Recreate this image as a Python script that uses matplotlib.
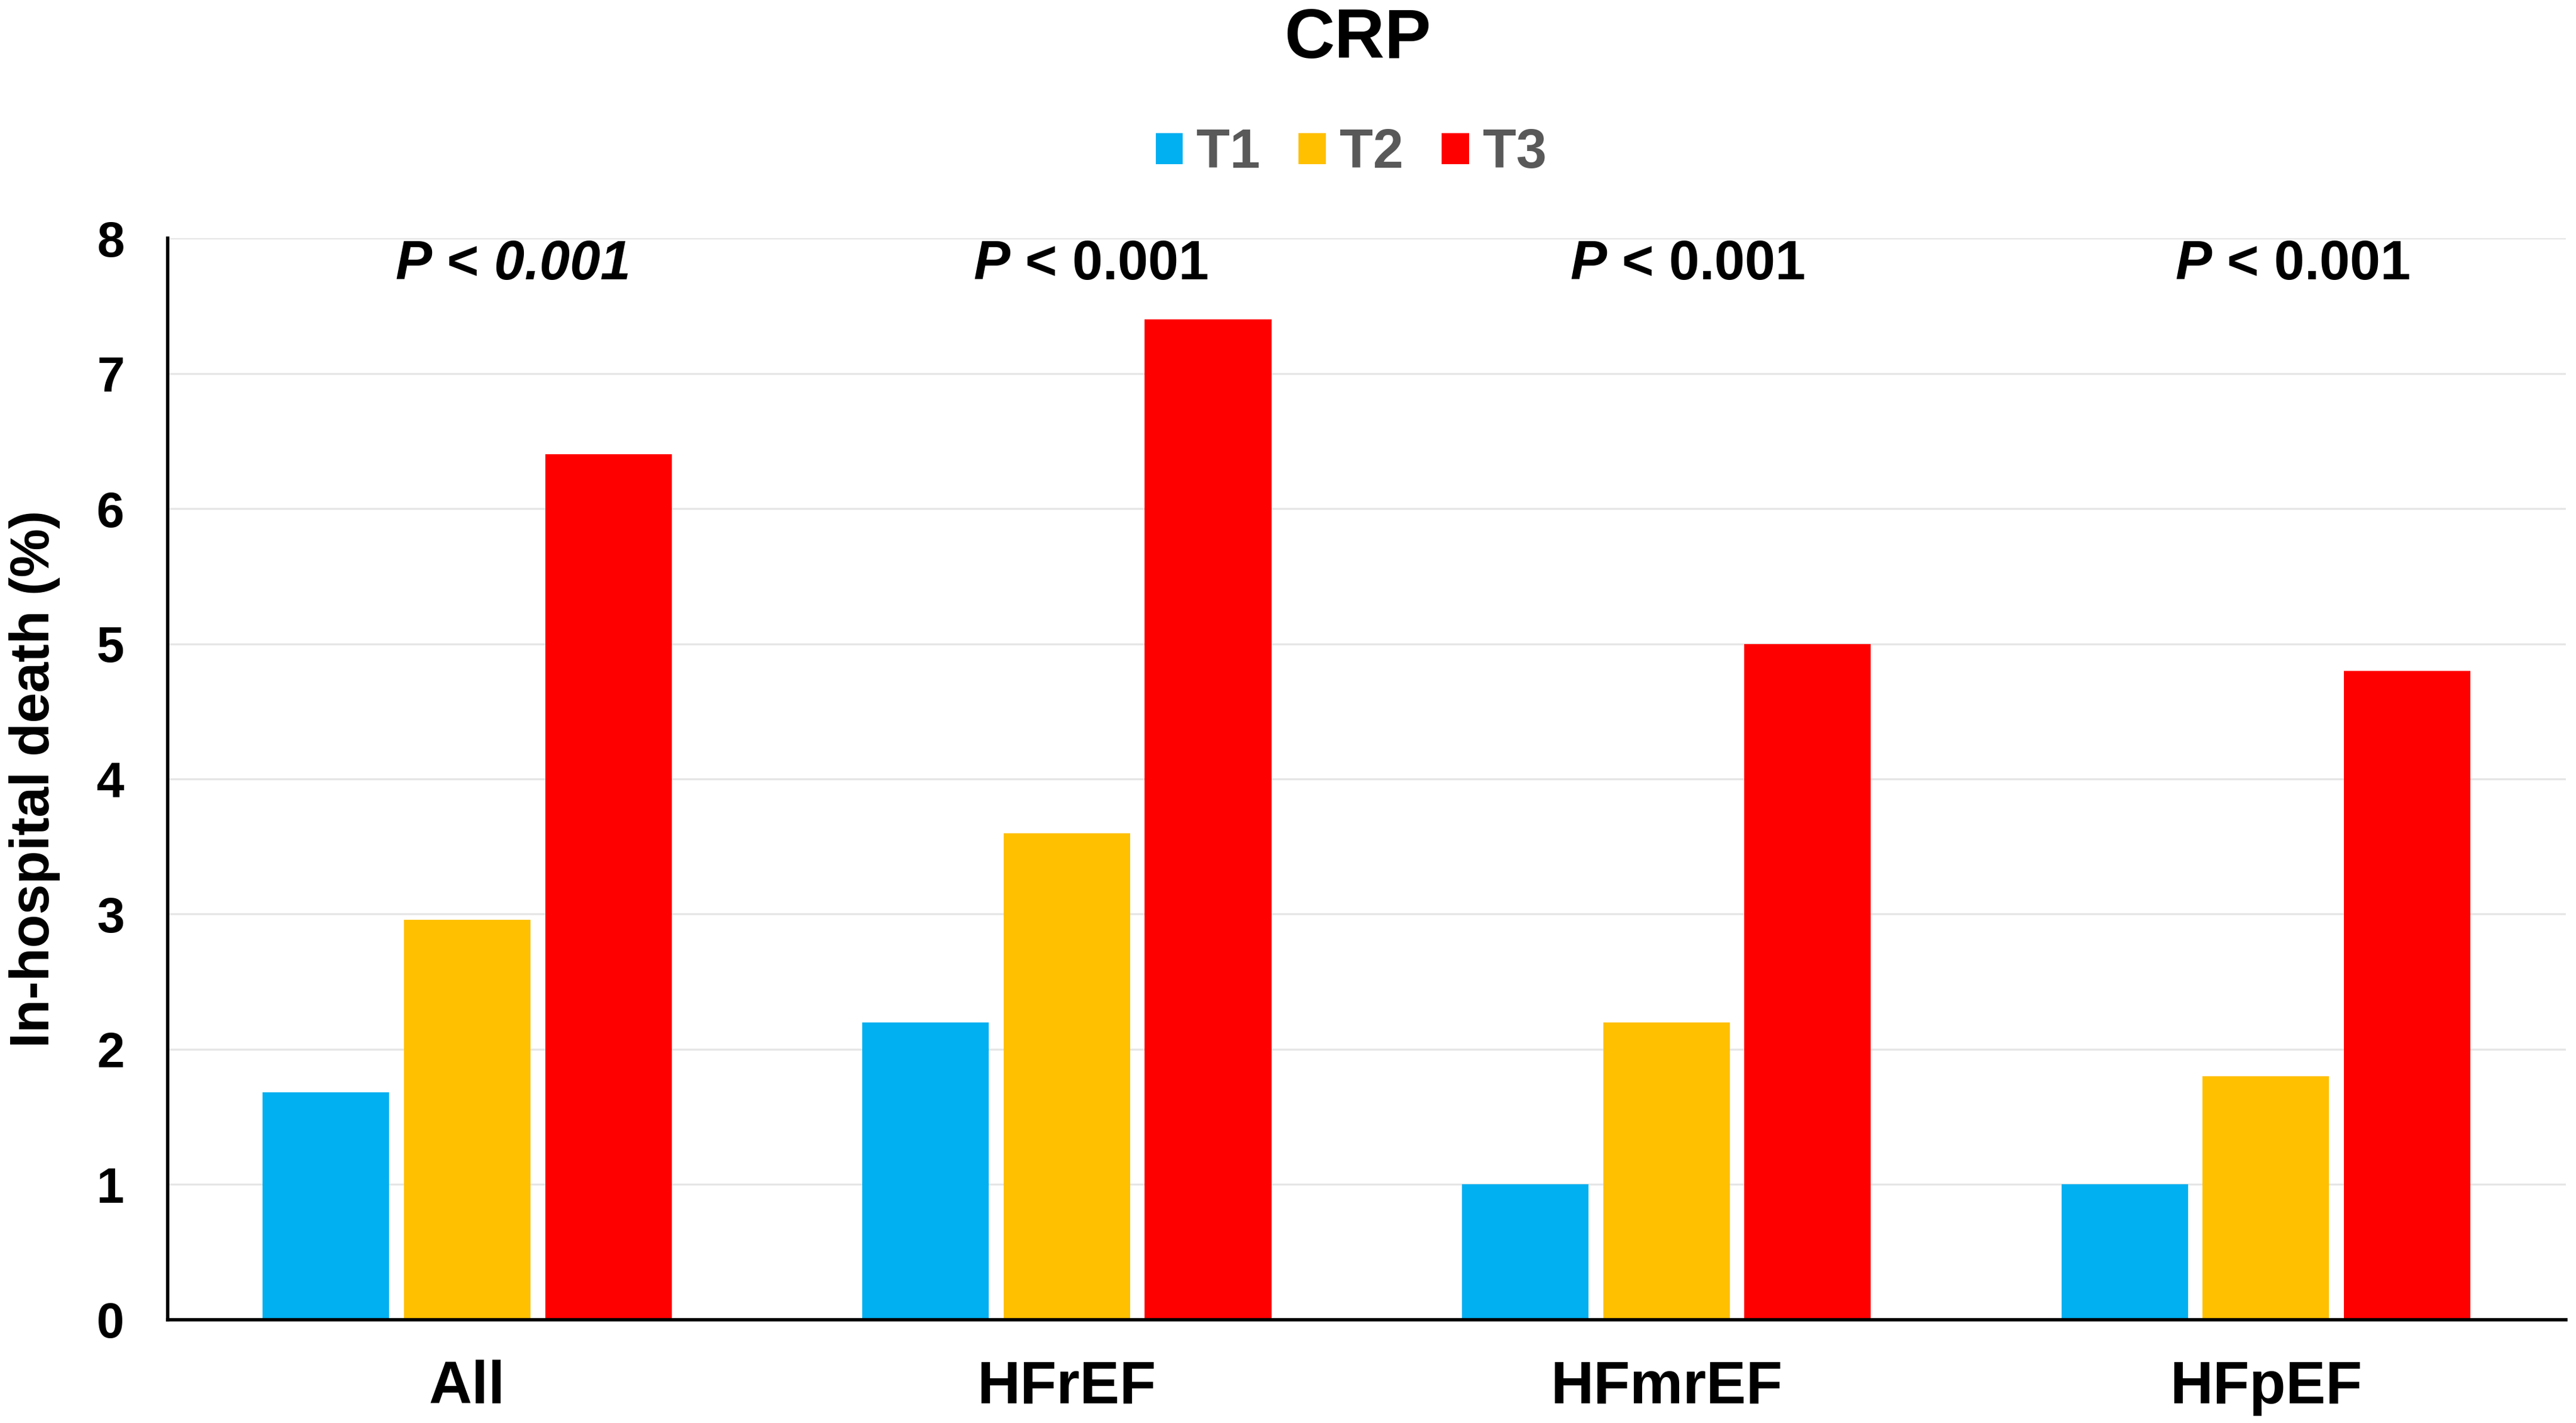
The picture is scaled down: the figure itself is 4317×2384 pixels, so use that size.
import matplotlib
matplotlib.use("Agg")
import matplotlib.pyplot as plt
from matplotlib.patches import Patch
import numpy as np

categories = ["All", "HFrEF", "HFmrEF", "HFpEF"]
series_names = ["T1", "T2", "T3"]
t1 = [1.68, 2.2, 1.0, 1.0]
t2 = [2.96, 3.6, 2.2, 1.8]
t3 = [6.4, 7.4, 5.0, 4.8]
colors = ["#00B0F0", "#FFC000", "#FF0000"]
yticks = [0, 1, 2, 3, 4, 5, 6, 7, 8]
p_labels = [r"$\mathbfit{P}$ < $\mathbfit{0.001}$", r"$\mathbfit{P}$ < 0.001",
            r"$\mathbfit{P}$ < 0.001", r"$\mathbfit{P}$ < 0.001"]

plt.rcParams['font.family'] = ['Liberation Sans', 'DejaVu Sans']
plt.rcParams['mathtext.fontset'] = 'custom'
plt.rcParams['mathtext.rm'] = 'Liberation Sans:bold'
plt.rcParams['mathtext.bf'] = 'Liberation Sans:bold'
plt.rcParams['mathtext.it'] = 'Liberation Sans:italic:bold'
plt.rcParams['mathtext.bfit'] = 'Liberation Sans:italic:bold'

fig = plt.figure(figsize=(4317/200, 2384/200), dpi=200)
ax = fig.add_axes([0.065, 0.0726, 0.931, 0.76])

x = np.arange(len(categories))
offset = 0.2356
width = 0.211
for i, (vals, c, name) in enumerate(zip([t1, t2, t3], colors, series_names)):
    ax.bar(x + (i - 1) * offset, vals, width=width, color=c, label=name, zorder=3, linewidth=0)

ax.set_xlim(-0.5, 3.5)
ax.set_ylim(0, 8)
ax.set_yticks(yticks)
ax.set_yticklabels([str(v) for v in yticks], fontsize=30, fontweight='bold')
ax.set_xticks(x)
ax.set_xticklabels(categories, fontsize=36, fontweight='bold')
ax.tick_params(axis='y', length=0, pad=26)
ax.tick_params(axis='x', length=0, pad=24)
ax.grid(axis='y', color='#E6E6E6', linewidth=1.2, zorder=0)
for s in ['top', 'right']:
    ax.spines[s].set_visible(False)
ax.spines['left'].set_linewidth(2.0)
ax.spines['bottom'].set_linewidth(2.0)
ax.spines['left'].set_zorder(4)
ax.spines['bottom'].set_zorder(4)

ax.set_ylabel("In-hospital death (%)", fontsize=33, fontweight='bold', labelpad=22)

p_offsets = [0.075, 0.04, 0.035, 0.045]
for i, lab in enumerate(p_labels):
    ax.text(i + p_offsets[i], 7.8, lab, ha='center', va='center',
            fontsize=33, fontweight='bold')

fig.text(0.527, 0.972, "CRP", ha='center', va='center', fontsize=42, fontweight='bold')

handles = [Patch(facecolor=c, edgecolor='none', label=n) for c, n in zip(colors, series_names)]
leg = fig.legend(handles=handles, loc='center', bbox_to_anchor=(0.5245, 0.892), ncol=3,
                 frameon=False, fontsize=33, handlelength=0.5, handleheight=0.5,
                 handletextpad=0.25, columnspacing=0.7)
for t in leg.get_texts():
    t.set_color('#595959')
    t.set_fontweight('bold')

fig.savefig("out.png", dpi=200)
